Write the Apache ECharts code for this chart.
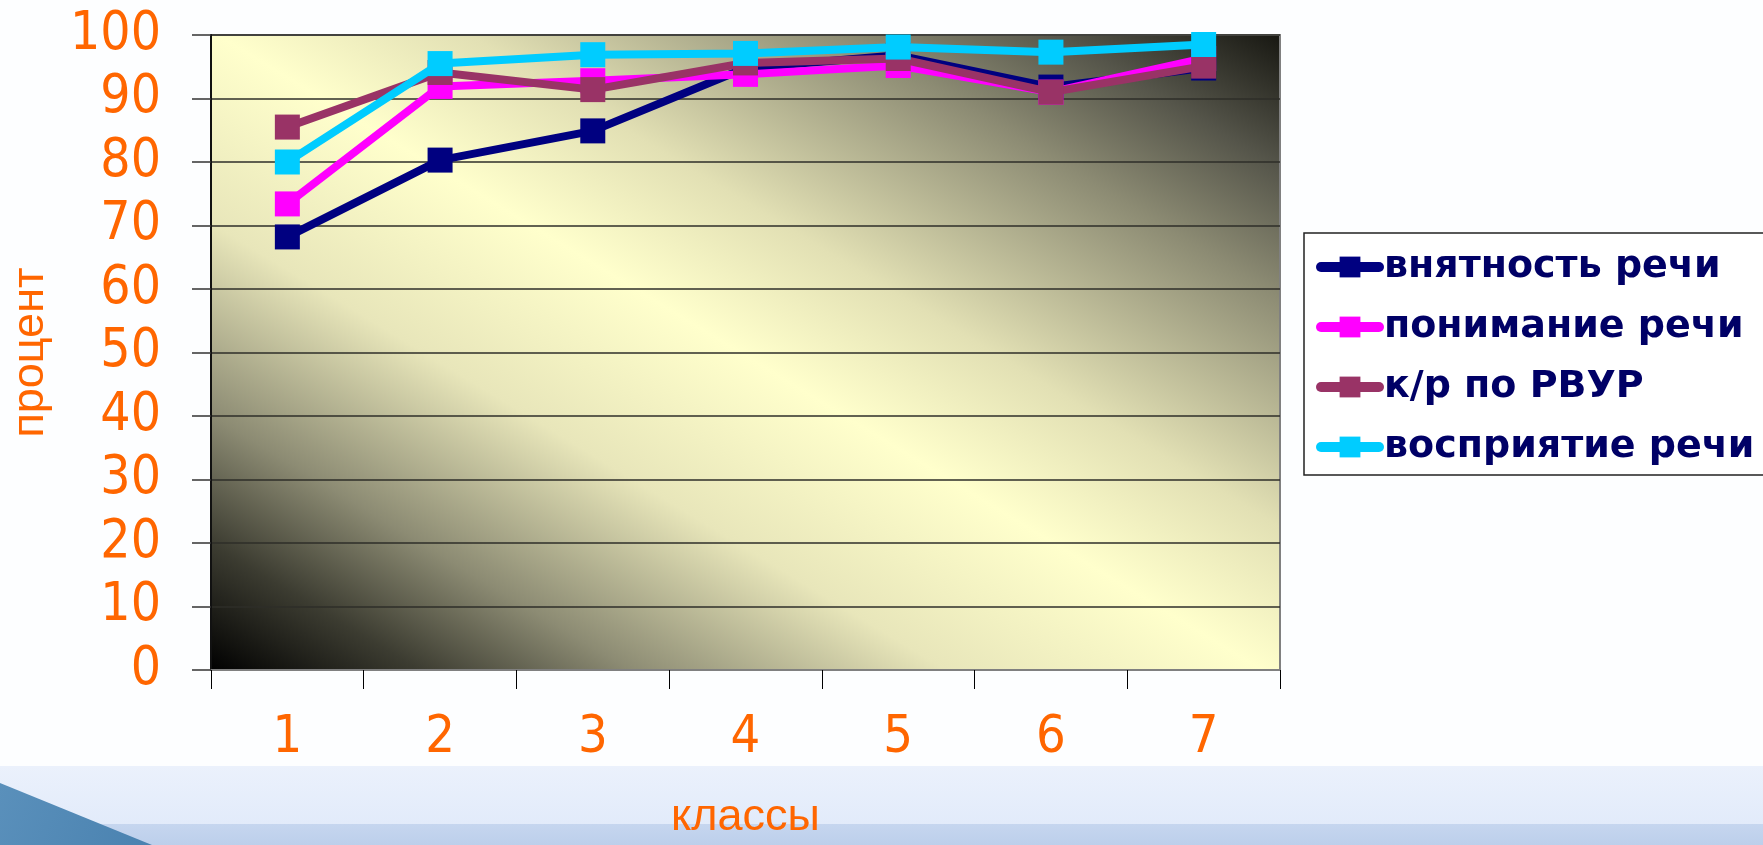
<!DOCTYPE html>
<html>
<head>
<meta charset="utf-8">
<script src="https://cdn.jsdelivr.net/npm/echarts@6/dist/echarts.min.js"></script>
<style>
html,body{margin:0;padding:0;background:#fdfeff;}
#chart{width:1763px;height:845px;}
</style>
</head>
<body>
<div id="chart"></div>
<script>
// ---- data ----
const categories = ['1', '2', '3', '4', '5', '6', '7'];
const seriesNames = ['внятность речи', 'понимание речи', 'к/р по РВУР', 'восприятие речи'];
const intelligibility = [68.2, 80.3, 84.9, 94.8, 96.8, 91.8, 94.8];
const understanding = [73.4, 91.9, 92.8, 93.8, 95.2, 91.0, 96.3];
const krRvur = [85.5, 94.1, 91.4, 95.6, 96.3, 91.0, 95.1];
const perception = [80.0, 95.5, 96.9, 97.1, 98.1, 97.3, 98.5];
const yTicks = [0, 10, 20, 30, 40, 50, 60, 70, 80, 90, 100];
const xAxisName = 'классы';
const yAxisName = 'процент';

const seriesValues = [intelligibility, understanding, krRvur, perception];
const colors = ['#000080', '#FF00FF', '#993366', '#00CCFF'];

const chart = echarts.init(document.getElementById('chart'), null, {renderer: 'canvas'});

const orange = '#FF6600';
const tickFont = "'DejaVu Sans Condensed', 'DejaVu Sans', sans-serif";
const nameFont = "'Liberation Sans', Arial, sans-serif";

const option = {
  animation: false,
  backgroundColor: '#fdfeff',
  graphic: [
    {type: 'rect', z: -10, silent: true, shape: {x: 0, y: 766, width: 1763, height: 58},
     style: {fill: {type: 'linear', x: 0, y: 0, x2: 0, y2: 1, colorStops: [
       {offset: 0, color: '#ebf1fc'}, {offset: 1, color: '#e2ebfa'}]}}},
    {type: 'rect', z: -10, silent: true, shape: {x: 0, y: 824, width: 1763, height: 21},
     style: {fill: {type: 'linear', x: 0, y: 0, x2: 0, y2: 1, colorStops: [
       {offset: 0, color: '#c6d6ef'}, {offset: 1, color: '#bccfeb'}]}}},
    {type: 'polygon', z: -9, silent: true, shape: {points: [[0, 783], [152, 845], [0, 845]]},
     style: {fill: {type: 'linear', x: 0, y: 0, x2: 1, y2: 1, colorStops: [
       {offset: 0, color: '#5a90bb'}, {offset: 1, color: '#4a82b0'}]}}}
  ],
  grid: {
    left: 210, top: 35, width: 1070, height: 643,
    show: true,
    borderColor: '#808080',
    borderWidth: 2,
    backgroundColor: {
      type: 'linear', x: 0, y: 1, x2: 0.531, y2: -0.469,
      colorStops: [
        {offset: 0, color: '#000000'},
        {offset: 0.1, color: '#3c3c31'},
        {offset: 0.2, color: '#8c8b73'},
        {offset: 0.35, color: '#e8e6ba'},
        {offset: 0.5, color: '#ffffcc'},
        {offset: 0.62, color: '#e2e0b4'},
        {offset: 0.8, color: '#8c8b73'},
        {offset: 0.9, color: '#55554a'},
        {offset: 1, color: '#1a1a14'}
      ]
    }
  },
  legend: {
    orient: 'vertical',
    left: 1304,
    top: 233,
    backgroundColor: '#ffffff',
    borderColor: '#222222',
    borderWidth: 1.5,
    padding: [14, 40, 8, 12],
    itemWidth: 58,
    itemHeight: 26,
    itemGap: 20,
    data: seriesNames,
    lineStyle: {width: 10, cap: 'round'},
    textStyle: {
      fontFamily: 'DejaVu Sans',
      fontWeight: 'bold',
      fontSize: 38,
      lineHeight: 40,
      color: '#000066'
    }
  },
  xAxis: {
    type: 'category',
    data: categories,
    boundaryGap: true,
    name: xAxisName,
    nameLocation: 'middle',
    nameGap: 125,
    nameTextStyle: {fontFamily: nameFont, fontSize: 45, color: orange},
    axisLine: {show: true, lineStyle: {color: '#808080', width: 2}},
    axisTick: {show: true, length: 19, interval: 0, lineStyle: {color: '#000', width: 1}},
    axisLabel: {margin: 42, fontFamily: tickFont, fontSize: 52, color: orange},
    splitLine: {show: false}
  },
  yAxis: {
    type: 'value',
    min: 0, max: 100, interval: 10,
    name: yAxisName,
    nameLocation: 'middle',
    nameGap: 158,
    nameRotate: 90,
    nameTextStyle: {fontFamily: nameFont, fontSize: 45, color: orange},
    axisLine: {show: true, lineStyle: {color: '#111', width: 2}},
    axisTick: {show: true, length: 19, lineStyle: {color: '#333', width: 1.5}},
    axisLabel: {
      margin: 50, fontFamily: tickFont, fontSize: 53, color: orange,
      formatter: function (v) { return yTicks.indexOf(v) >= 0 ? String(v) : ''; }
    },
    splitLine: {show: true, lineStyle: {color: '#2e2e28', width: 1.5}}
  },
  series: seriesValues.map(function (vals, i) {
    return {
      name: seriesNames[i],
      type: 'line',
      data: vals,
      z: 2 + i,
      symbol: 'rect',
      symbolSize: 25,
      showSymbol: true,
      lineStyle: {color: colors[i], width: 8},
      itemStyle: {color: colors[i]},
      emphasis: {disabled: true}
    };
  })
};

chart.setOption(option);
</script>
</body>
</html>
